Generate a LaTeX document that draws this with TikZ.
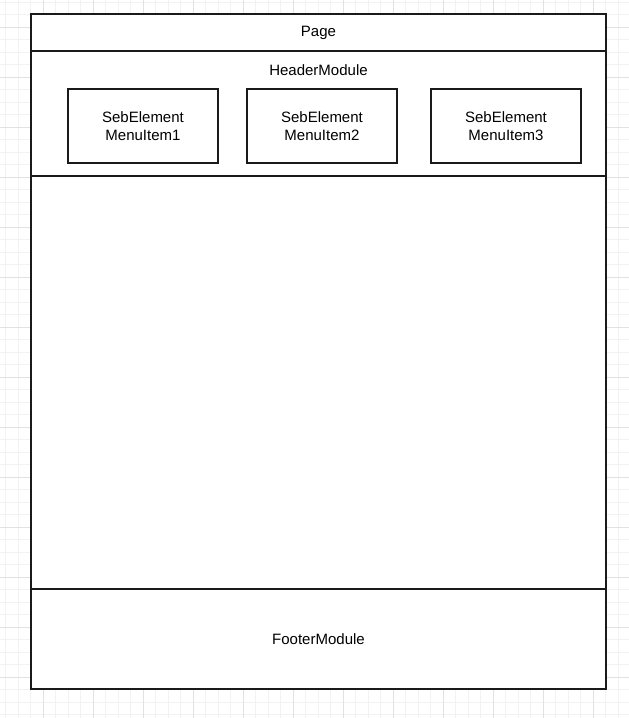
\documentclass[tikz,border=0pt]{standalone}
\usepackage{fontspec}
\setmainfont{Liberation Sans}
\definecolor{minorgrid}{HTML}{F2F2F2}
\definecolor{majorgrid}{HTML}{E2E2E2}
\definecolor{edge}{HTML}{1A1A1A}
\begin{document}
\begin{tikzpicture}[x=1pt,y=-1pt,
  box/.style={draw=edge,line width=1.2pt,fill=white},
  lbl/.style={font=\fontsize{15}{18}\selectfont,text=black,align=center,inner sep=0pt}]
\useasboundingbox (0,0) rectangle (629,718);
\fill[white] (0,0) rectangle (629,718);
% grid
\foreach \i in {0,...,51} {
  \pgfmathsetmacro{\xx}{-7+12.5*\i}
  \draw[minorgrid,line width=0.8pt] (\xx,0) -- (\xx,718);
}
\foreach \i in {0,...,58} {
  \pgfmathsetmacro{\yy}{-10.5+12.5*\i}
  \draw[minorgrid,line width=0.8pt] (0,\yy) -- (629,\yy);
}
\foreach \i in {0,...,13} {
  \pgfmathsetmacro{\xx}{-7+50*\i}
  \draw[majorgrid,line width=0.8pt] (\xx,0) -- (\xx,718);
}
\foreach \i in {0,...,14} {
  \pgfmathsetmacro{\yy}{-23+50*\i}
  \draw[majorgrid,line width=0.8pt] (0,\yy) -- (629,\yy);
}
% page
\path[box] (31,14) rectangle (606,689);
\coordinate (tl) at (31,51); \coordinate (tr) at (606,51);
\draw[edge,line width=1.2pt] (tl) -- (tr);
\coordinate (hl) at (31,176); \coordinate (hr) at (606,176);
\draw[edge,line width=1.2pt] (hl) -- (hr);
\coordinate (fl) at (31,589); \coordinate (fr) at (606,589);
\draw[edge,line width=1.2pt] (fl) -- (fr);
\node[lbl] (page) at (318.5,32.5) {Page};
\node[lbl] (header) at (318.5,70.5) {HeaderModule};
\node[lbl] (footer) at (318.5,639.5) {FooterModule};
% menu items
\path[box] (68,89) rectangle (218,163);
\node[lbl] (m1) at (143,126.5) {SebElement\\MenuItem1};
\path[box] (247,89) rectangle (397,163);
\node[lbl] (m2) at (322,126.5) {SebElement\\MenuItem2};
\path[box] (431,89) rectangle (581,163);
\node[lbl] (m3) at (506,126.5) {SebElement\\MenuItem3};
\end{tikzpicture}
\end{document}
